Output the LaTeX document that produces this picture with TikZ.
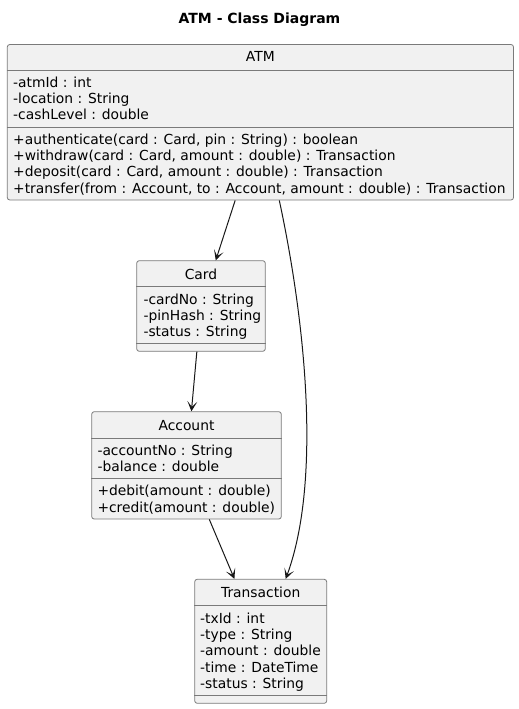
\documentclass[tikz,border=0pt]{standalone}
\usepackage{fontspec}
\setmainfont{DejaVu Sans}
\usetikzlibrary{arrows.meta}
\definecolor{boxfill}{HTML}{F1F1F1}
\definecolor{lc}{HTML}{181818}
\definecolor{bc}{HTML}{7A7A7A}
\begin{document}
\begin{tikzpicture}[x=1pt,y=-1pt,
  cls/.style={draw=bc, line width=0.8pt, fill=boxfill, rounded corners=2.5pt, inner sep=0pt},
  sep/.style={draw=bc, line width=0.8pt},
  mem/.style={anchor=base west, inner sep=0pt, font=\fontsize{13.85}{16}\selectfont},
  hdr/.style={anchor=base, inner sep=0pt, font=\fontsize{13.85}{16}\selectfont},
  conn/.style={draw=lc, line width=1pt, -{Stealth[length=10pt,width=10pt,inset=5.5pt]}}
]
\useasboundingbox (0,0) rectangle (519,709);
\node[anchor=base, inner sep=0pt, font=\fontsize{14}{16}\selectfont\bfseries] (title) at (259.5,23.3) {ATM - Class Diagram};

% ATM
\node[cls, minimum width=506.2pt, minimum height=155.5pt] (atm) at (260.4,122.25) {};
\draw[sep] (atm.west |- 0,70.5) -- (atm.east |- 0,70.5);
\draw[sep] (atm.west |- 0,127.5) -- (atm.east |- 0,127.5);
\node[hdr] (atmh) at (260.4,62) {ATM};
\node[mem] (atma1) at (13,87.2) {-atmId : int};
\node[mem] (atma2) at (13,103.5) {-location : String};
\node[mem] (atma3) at (13,119.8) {-cashLevel : double};
\node[mem] (atmm1) at (13,144.2) {+authenticate(card : Card, pin : String) : boolean};
\node[mem] (atmm2) at (13,160.5) {+withdraw(card : Card, amount : double) : Transaction};
\node[mem] (atmm3) at (13,176.8) {+deposit(card : Card, amount : double) : Transaction};
\node[mem] (atmm4) at (13,193.1) {+transfer(from : Account, to : Account, amount : double) : Transaction};

% Card
\node[cls, minimum width=128.6pt, minimum height=90.6pt] (card) at (201,306) {};
\draw[sep] (card.west |- 0,286.7) -- (card.east |- 0,286.7);
\draw[sep] (card.west |- 0,343.3) -- (card.east |- 0,343.3);
\node[hdr] (cardh) at (201,279) {Card};
\node[mem] (carda1) at (143.3,304) {-cardNo : String};
\node[mem] (carda2) at (143.3,320.3) {-pinHash : String};
\node[mem] (carda3) at (143.3,336.6) {-status : String};

% Account
\node[cls, minimum width=189.6pt, minimum height=107.3pt] (acct) at (186.5,465.35) {};
\draw[sep] (acct.west |- 0,438.3) -- (acct.east |- 0,438.3);
\draw[sep] (acct.west |- 0,478.7) -- (acct.east |- 0,478.7);
\node[hdr] (accth) at (186.5,430) {Account};
\node[mem] (accta1) at (97.3,455) {-accountNo : String};
\node[mem] (accta2) at (97.3,471.3) {-balance : double};
\node[mem] (acctm1) at (97.3,495.7) {+debit(amount : double)};
\node[mem] (acctm2) at (97.3,512) {+credit(amount : double)};

% Transaction
\node[cls, minimum width=132pt, minimum height=124pt] (trans) at (260.7,641.3) {};
\draw[sep] (trans.west |- 0,605.7) -- (trans.east |- 0,605.7);
\draw[sep] (trans.west |- 0,695) -- (trans.east |- 0,695);
\node[hdr] (transh) at (260.7,597.3) {Transaction};
\node[mem] (transa1) at (200,623.3) {-txId : int};
\node[mem] (transa2) at (200,639.6) {-type : String};
\node[mem] (transa3) at (200,655.9) {-amount : double};
\node[mem] (transa4) at (200,672.2) {-time : DateTime};
\node[mem] (transa5) at (200,688.5) {-status : String};

% connectors
\draw[conn] (atm) -- (card);
\draw[conn] (card) -- (acct);
\draw[conn] (acct) -- (trans);
\draw[conn] ([xshift=18.9pt]atm.south) .. controls (305,320) and (322,480) .. ([xshift=25pt]trans.north);
\end{tikzpicture}
\end{document}
